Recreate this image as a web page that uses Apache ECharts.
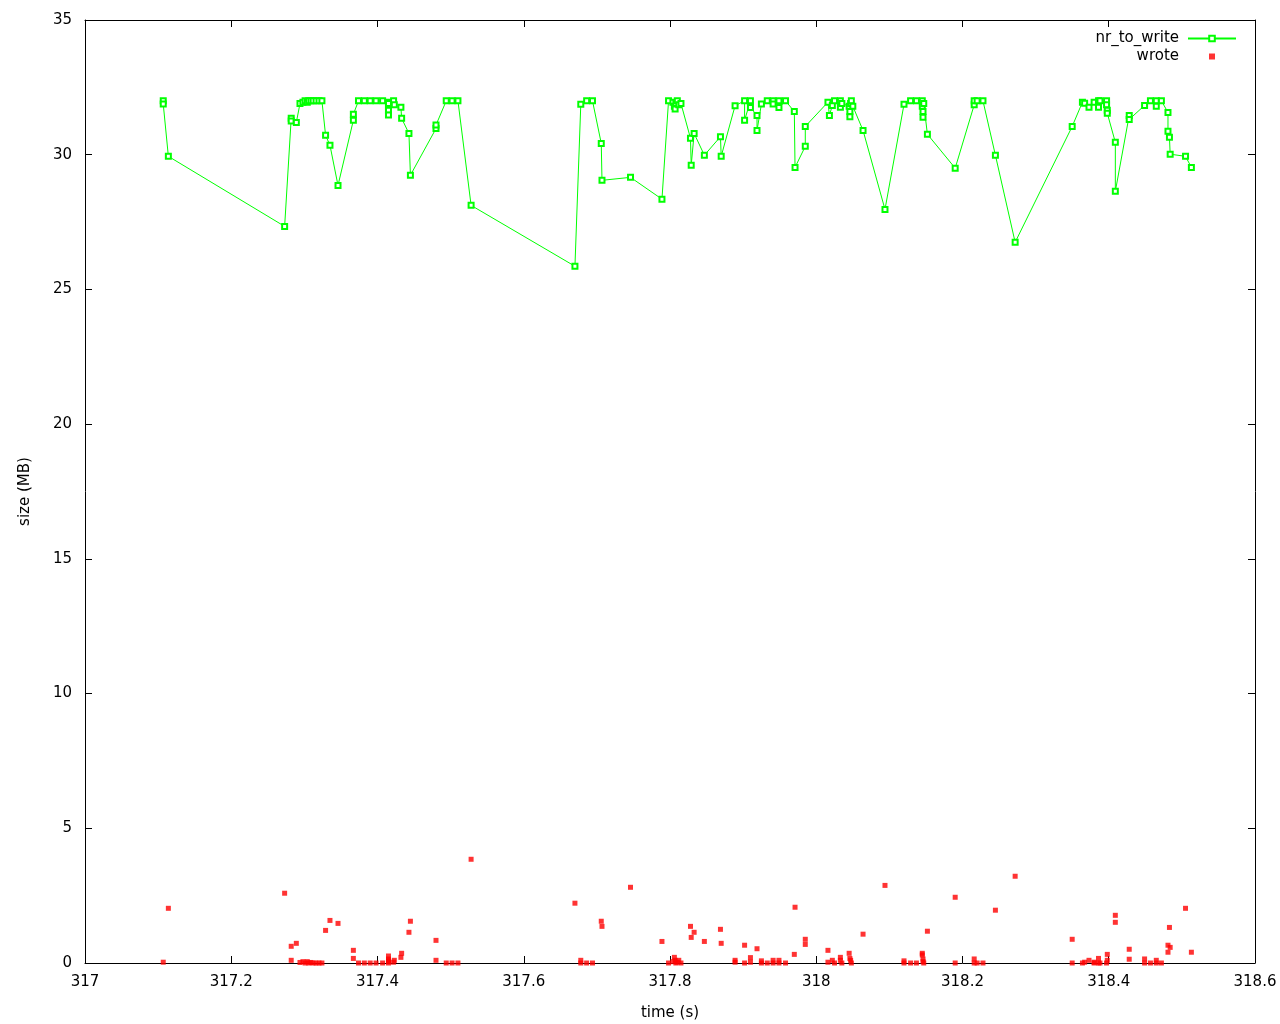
<!DOCTYPE html>
<html>
<head>
<meta charset="utf-8">
<script src="https://cdn.jsdelivr.net/npm/echarts@6/dist/echarts.min.js"></script>
<style>
html,body{margin:0;padding:0;background:#fff;}
#chart{width:1280px;height:1024px;}
</style>
</head>
<body>
<div id="chart"></div>
<script>
// nr_to_write series (time in s, size in MB)
const nrTime = [
317.107,317.107,317.114,317.273,317.282,317.282,317.289,317.294,317.298,317.301,
317.304,317.306,317.309,317.312,317.316,317.320,317.324,317.329,317.335,317.346,
317.367,317.367,317.374,317.382,317.390,317.398,317.407,317.415,317.415,317.415,
317.415,317.415,317.422,317.423,317.432,317.433,317.443,317.445,317.480,317.480,
317.494,317.502,317.510,317.528,317.670,317.678,317.686,317.694,317.706,317.707,
317.746,317.789,317.798,317.804,317.806,317.807,317.808,317.810,317.812,317.815,
317.828,317.829,317.833,317.847,317.869,317.870,317.889,317.902,317.902,317.910,
317.910,317.919,317.919,317.925,317.933,317.941,317.941,317.949,317.949,317.958,
317.970,317.971,317.985,317.985,318.016,318.018,318.022,318.025,318.033,318.033,
318.035,318.045,318.046,318.046,318.047,318.048,318.050,318.064,318.094,318.120,
318.129,318.137,318.145,318.145,318.146,318.146,318.147,318.152,318.190,318.216,
318.216,318.220,318.228,318.245,318.272,318.350,318.364,318.367,318.373,318.380,
318.386,318.386,318.388,318.397,318.397,318.398,318.398,318.409,318.409,318.428,
318.428,318.449,318.457,318.465,318.465,318.472,318.481,318.481,318.483,318.484,
318.505,318.513
];
const nrToWrite = [
32.0,31.88,29.94,27.34,31.35,31.25,31.2,31.9,31.95,32.0,
31.95,32.0,32.0,32.0,32.0,32.0,32.0,30.72,30.35,28.86,
31.28,31.5,32.0,32.0,32.0,32.0,32.0,31.95,31.8,31.65,
31.47,31.9,32.0,31.85,31.76,31.35,30.79,29.24,30.97,31.1,
32.0,32.0,32.0,28.12,25.86,31.87,32.0,32.0,30.42,29.05,
29.16,28.35,32.0,31.95,31.8,31.7,31.9,32.0,31.85,31.9,
30.61,29.61,30.79,29.98,30.67,29.94,31.82,32.0,31.28,32.0,
31.75,31.46,30.9,31.88,32.0,32.0,31.88,32.0,31.75,32.0,
31.6,29.53,30.31,31.05,31.95,31.46,31.83,32.0,32.0,31.76,
31.9,31.8,31.6,31.41,31.9,32.0,31.8,30.9,27.97,31.87,
32.0,32.0,32.0,31.8,31.6,31.39,31.9,30.76,29.5,31.85,
32.0,32.0,32.0,29.98,26.75,31.05,31.95,31.91,31.76,31.95,
32.0,31.76,32.0,32.0,31.85,31.65,31.54,30.46,28.64,31.46,
31.31,31.83,32.0,32.0,31.8,32.0,31.57,30.87,30.65,30.02,
29.94,29.53
];

// wrote series (time in s, size in MB)
const wroteTime = [
317.107,317.114,317.273,317.282,317.282,317.289,317.294,317.298,317.301,317.304,
317.306,317.309,317.312,317.316,317.320,317.324,317.329,317.335,317.346,317.367,
317.367,317.374,317.382,317.390,317.398,317.407,317.415,317.415,317.415,317.415,
317.415,317.422,317.423,317.432,317.433,317.443,317.445,317.480,317.480,317.494,
317.502,317.510,317.528,317.670,317.678,317.678,317.686,317.694,317.706,317.707,
317.746,317.789,317.798,317.804,317.806,317.807,317.808,317.810,317.812,317.815,
317.828,317.829,317.833,317.847,317.869,317.870,317.889,317.889,317.902,317.902,
317.910,317.910,317.919,317.925,317.925,317.933,317.941,317.941,317.949,317.949,
317.958,317.970,317.971,317.985,317.985,318.016,318.016,318.022,318.025,318.033,
318.033,318.035,318.045,318.046,318.047,318.048,318.064,318.094,318.120,318.120,
318.129,318.137,318.145,318.145,318.146,318.146,318.147,318.152,318.190,318.190,
318.216,318.216,318.220,318.228,318.245,318.272,318.350,318.350,318.364,318.367,
318.373,318.380,318.380,318.386,318.386,318.388,318.397,318.398,318.398,318.409,
318.409,318.428,318.428,318.449,318.449,318.457,318.465,318.465,318.472,318.481,
318.481,318.483,318.484,318.505,318.513
];
const wrote = [
0.03,2.03,2.59,0.62,0.1,0.73,0.02,0.05,0.0,0.05,
0.0,0.02,0.0,0.0,0.0,0.0,1.21,1.58,1.47,0.47,
0.17,0.0,0.0,0.0,0.0,0.0,0.26,0.1,0.0,0.15,
0.05,0.03,0.1,0.21,0.36,1.14,1.55,0.84,0.1,0.0,
0.0,0.0,3.85,2.22,0.1,0.0,0.0,0.0,1.55,1.36,
2.81,0.8,0.0,0.05,0.21,0.1,0.0,0.03,0.1,0.0,
1.36,0.95,1.14,0.8,1.25,0.73,0.1,0.03,0.66,0.0,
0.2,0.03,0.53,0.08,0.0,0.0,0.1,0.0,0.1,0.0,
0.0,0.32,2.07,0.88,0.69,0.47,0.03,0.1,0.0,0.21,
0.1,0.0,0.36,0.17,0.1,0.0,1.07,2.88,0.08,0.0,
0.0,0.0,0.36,0.3,0.15,0.05,0.0,1.18,2.44,0.0,
0.15,0.0,0.0,0.0,1.96,3.22,0.88,0.0,0.0,0.03,
0.1,0.03,0.0,0.17,0.0,0.0,0.0,0.1,0.32,1.77,
1.51,0.51,0.14,0.15,0.0,0.0,0.1,0.0,0.0,0.66,
0.4,1.32,0.58,2.03,0.4
];

const xMin = 317, xMax = 318.6, xStep = 0.2;
const yMin = 0, yMax = 35, yStep = 5;
const seriesNames = ['nr_to_write', 'wrote'];
const xTitle = 'time (s)';
const yTitle = 'size (MB)';

const FONT = 'DejaVu Sans';
const nrData = nrTime.map((t, i) => [t, nrToWrite[i]]);
const wroteData = wroteTime.map((t, i) => [t, wrote[i]]);

const chart = echarts.init(document.getElementById('chart'), null, {renderer: 'canvas'});
const labelStyle = {color: '#000', fontFamily: FONT, fontSize: 15};
const frameLine = {show: true, onZero: false, lineStyle: {color: '#000', width: 1}};
const tick = {show: true, inside: true, length: 7, lineStyle: {color: '#000', width: 1}};

chart.setOption({
  animation: false,
  backgroundColor: '#fff',
  grid: {left: 85, right: 25, top: 20, bottom: 61, containLabel: false, outerBoundsMode: 'none'},
  legend: [
    {
      data: [seriesNames[0]],
      right: 38, top: 26, align: 'right', orient: 'vertical',
      itemWidth: 48, itemHeight: 7, itemGap: 8,
      textStyle: {color: '#000', fontFamily: FONT, fontSize: 15, padding: [0, 4, 0, 0]},
      selectedMode: false
    },
    {
      data: [{name: seriesNames[1], icon: 'rect'}],
      right: 60, top: 44, align: 'right', orient: 'vertical',
      itemWidth: 6, itemHeight: 6,
      textStyle: {color: '#000', fontFamily: FONT, fontSize: 15, padding: [0, 25, 0, 0]},
      selectedMode: false
    }
  ],
  xAxis: [
    {
      type: 'value', min: xMin, max: xMax, interval: xStep,
      name: xTitle, nameLocation: 'middle', nameGap: 43,
      nameTextStyle: labelStyle,
      axisLine: frameLine, axisTick: tick, splitLine: {show: false},
      axisLabel: Object.assign({margin: 12, formatter: v => String(+v.toFixed(1))}, labelStyle)
    },
    {
      type: 'value', position: 'top', min: xMin, max: xMax, interval: xStep,
      axisLine: frameLine, axisTick: tick, splitLine: {show: false},
      axisLabel: {show: false}
    }
  ],
  yAxis: [
    {
      type: 'value', min: yMin, max: yMax, interval: yStep,
      name: yTitle, nameLocation: 'middle', nameGap: 52, nameRotate: 90,
      nameTextStyle: labelStyle,
      axisLine: frameLine, axisTick: tick, splitLine: {show: false},
      axisLabel: Object.assign({margin: 13}, labelStyle)
    },
    {
      type: 'value', position: 'right', min: yMin, max: yMax, interval: yStep,
      axisLine: frameLine, axisTick: tick, splitLine: {show: false},
      axisLabel: {show: false}
    }
  ],
  series: [
    {
      name: seriesNames[0], type: 'line', data: nrData,
      xAxisIndex: 0, yAxisIndex: 0,
      symbol: 'emptyRect', symbolSize: 5, showAllSymbol: true,
      lineStyle: {color: '#00ff00', width: 1},
      itemStyle: {color: '#00ff00', borderColor: '#00ff00', borderWidth: 1},
      z: 2
    },
    {
      name: seriesNames[1], type: 'scatter', data: wroteData,
      xAxisIndex: 0, yAxisIndex: 0,
      symbol: 'rect', symbolSize: 5,
      itemStyle: {color: '#ff0000'},
      z: 3
    }
  ]
});
</script>
</body>
</html>
